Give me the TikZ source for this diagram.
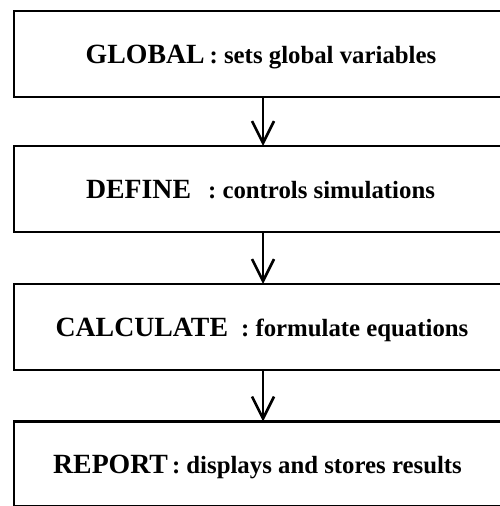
\documentclass[tikz,border=0pt]{standalone}
\usepackage{fontspec}
\setmainfont{Liberation Serif}
\usetikzlibrary{arrows.meta}
\newcommand\stagename[1]{{\fontsize{27.8}{30}\selectfont\bfseries #1}}
\newcommand\stagedesc[1]{{\fontsize{24.8}{28}\selectfont\bfseries #1}}
\begin{document}
\begin{tikzpicture}[x=1pt,y=-1pt,
  stage/.style={draw, line width=2.8pt, minimum width=488pt, inner sep=0pt, outer sep=0pt},
  caption/.style={anchor=base, inner sep=0pt},
  flow/.style={line width=2.6pt, -{Straight Barb[length=22pt,width=22pt]}}
]
\useasboundingbox (0,0) rectangle (500,506);

% the four stages
\node[stage, minimum height=86pt] (global) at (258,54) {};
\node[stage, minimum height=86pt] (define) at (258,189) {};
\node[stage, minimum height=86pt] (calc) at (258,327) {};
\node[stage, minimum height=85pt] (report) at (258,464) {};

% stage texts
\node[caption] (globalt) at (261,63) {\stagename{GLOBAL}\kern5pt\stagedesc{: sets global variables}};
\node[caption] (definet) at (260.5,198) {\stagename{DEFINE}\kern17pt\stagedesc{: controls simulations}};
\node[caption] (calct) at (262,336.5) {\stagename{CALCULATE}\kern13pt\stagedesc{: formulate equations}};
\node[caption] (reportt) at (257.5,473) {\stagename{REPORT}\kern4pt\stagedesc{: displays and stores results}};

% flow between stages
\draw[flow] ([xshift=5pt]global.south) -- ([xshift=5pt]define.north);
\draw[flow] ([xshift=5pt]define.south) -- ([xshift=5pt]calc.north);
\draw[flow] ([xshift=5pt]calc.south) -- ([xshift=5pt]report.north);
\end{tikzpicture}
\end{document}
